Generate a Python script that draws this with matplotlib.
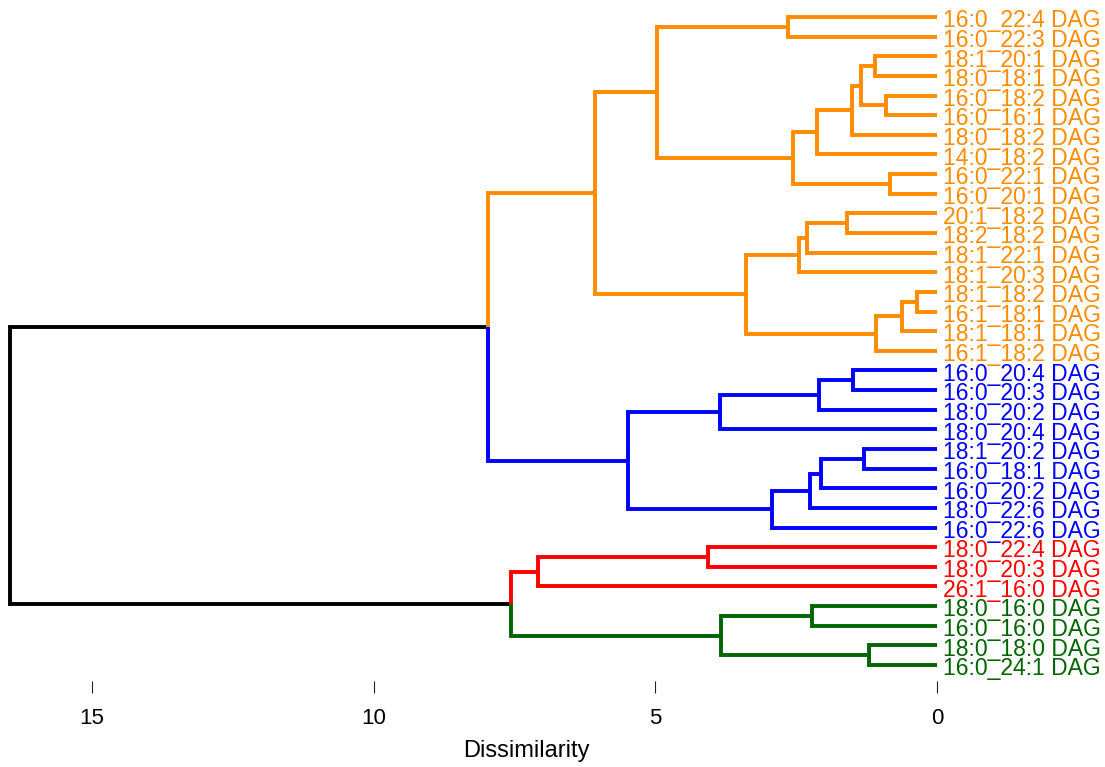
import matplotlib
matplotlib.use("Agg")
import matplotlib.pyplot as plt
from matplotlib.transforms import offset_copy

# ---- data ----
leaf_labels = [
    "16:0_22:4 DAG", "16:0_22:3 DAG", "18:1_20:1 DAG", "18:0_18:1 DAG",
    "16:0_18:2 DAG", "16:0_16:1 DAG", "18:0_18:2 DAG", "14:0_18:2 DAG",
    "16:0_22:1 DAG", "16:0_20:1 DAG", "20:1_18:2 DAG", "18:2_18:2 DAG",
    "18:1_22:1 DAG", "18:1_20:3 DAG", "18:1_18:2 DAG", "16:1_18:1 DAG",
    "18:1_18:1 DAG", "16:1_18:2 DAG",
    "16:0_20:4 DAG", "16:0_20:3 DAG", "18:0_20:2 DAG", "18:0_20:4 DAG",
    "18:1_20:2 DAG", "16:0_18:1 DAG", "16:0_20:2 DAG", "18:0_22:6 DAG",
    "16:0_22:6 DAG",
    "18:0_22:4 DAG", "18:0_20:3 DAG", "26:1_16:0 DAG",
    "18:0_16:0 DAG", "16:0_16:0 DAG", "18:0_18:0 DAG", "16:0_24:1 DAG",
]
leaf_cluster = [0] * 18 + [1] * 9 + [2] * 3 + [3] * 4
cluster_colors = ["#FF8C00", "#0000FF", "#FF0000", "#006400"]

# merges: (child_a, child_b, height); ids < 34 are leaves, id 34+k is merge k
merge_a = [0, 2, 4, 35, 37, 38, 8, 39, 34, 10, 43, 44, 14, 46, 47, 45, 42,
           18, 51, 52, 22, 54, 55, 56, 53, 50,
           27, 60, 30, 32, 62, 61, 59]
merge_b = [1, 3, 5, 36, 6, 7, 9, 40, 41, 11, 12, 13, 15, 16, 17, 48, 49,
           19, 20, 21, 23, 24, 25, 26, 57, 58,
           28, 29, 31, 33, 63, 64, 65]
merge_h = [2.65, 1.10, 0.91, 1.35, 1.51, 2.13, 0.83, 2.56, 4.97, 1.60, 2.31,
           2.45, 0.36, 0.62, 1.08, 3.39, 6.07,
           1.49, 2.09, 3.85, 1.30, 2.06, 2.25, 2.93, 5.49, 7.97,
           4.07, 7.08, 2.22, 1.21, 3.83, 7.56, 16.46]
x_ticks = [15, 10, 5, 0]

# ---- geometry ----
n = len(leaf_labels)
ypos = {i: float(i) for i in range(n)}
hgt = {i: 0.0 for i in range(n)}
col = {i: cluster_colors[leaf_cluster[i]] for i in range(n)}
for k, (a, b, h) in enumerate(zip(merge_a, merge_b, merge_h)):
    node = n + k
    ypos[node] = (ypos[a] + ypos[b]) / 2
    hgt[node] = h
    col[node] = col[a] if col[a] == col[b] else "black"

W, H = 1105, 767
fig = plt.figure(figsize=(W / 100, H / 100), dpi=100)
top_px, bot_px, right_px = 10, 681, 937
ax = fig.add_axes([0, (H - bot_px) / H, right_px / W, (bot_px - top_px) / H])
y_top = 0 - (17 - top_px) / 19.636
y_bot = (n - 1) + (bot_px - 665) / 19.636
ax.set_ylim(y_bot, y_top)
ax.set_xlim(937 / 56.33, 0)

for k, (a, b, h) in enumerate(zip(merge_a, merge_b, merge_h)):
    node = n + k
    for c in (a, b):
        ax.plot([hgt[c], h, h], [ypos[c], ypos[c], ypos[node]],
                color=col[c], lw=2.8, solid_capstyle="butt",
                solid_joinstyle="miter", zorder=2 if col[c] != "black" else 1)

trans = offset_copy(ax.transData, fig=fig, x=4.3, y=-7.4, units="points")
for i, lab in enumerate(leaf_labels):
    ax.text(0, i, lab, transform=trans, ha="left", va="baseline",
            fontsize=16.5, family="Liberation Sans", color=col[i], clip_on=False)

for s in ax.spines.values():
    s.set_visible(False)
ax.set_yticks([])
ax.set_xticks(x_ticks)
ax.set_xticklabels([str(t) for t in x_ticks], family="Liberation Sans", fontsize=16)
ax.tick_params(axis="x", length=8.6, width=0.8, pad=10.5, colors="#222222")
for t in ax.get_xticklabels():
    t.set_color("black")
fig.text(526 / W, 1 - 757 / H, "Dissimilarity", ha="center", va="baseline",
         fontsize=17, family="Liberation Sans")

fig.savefig("out.png", dpi=100)
